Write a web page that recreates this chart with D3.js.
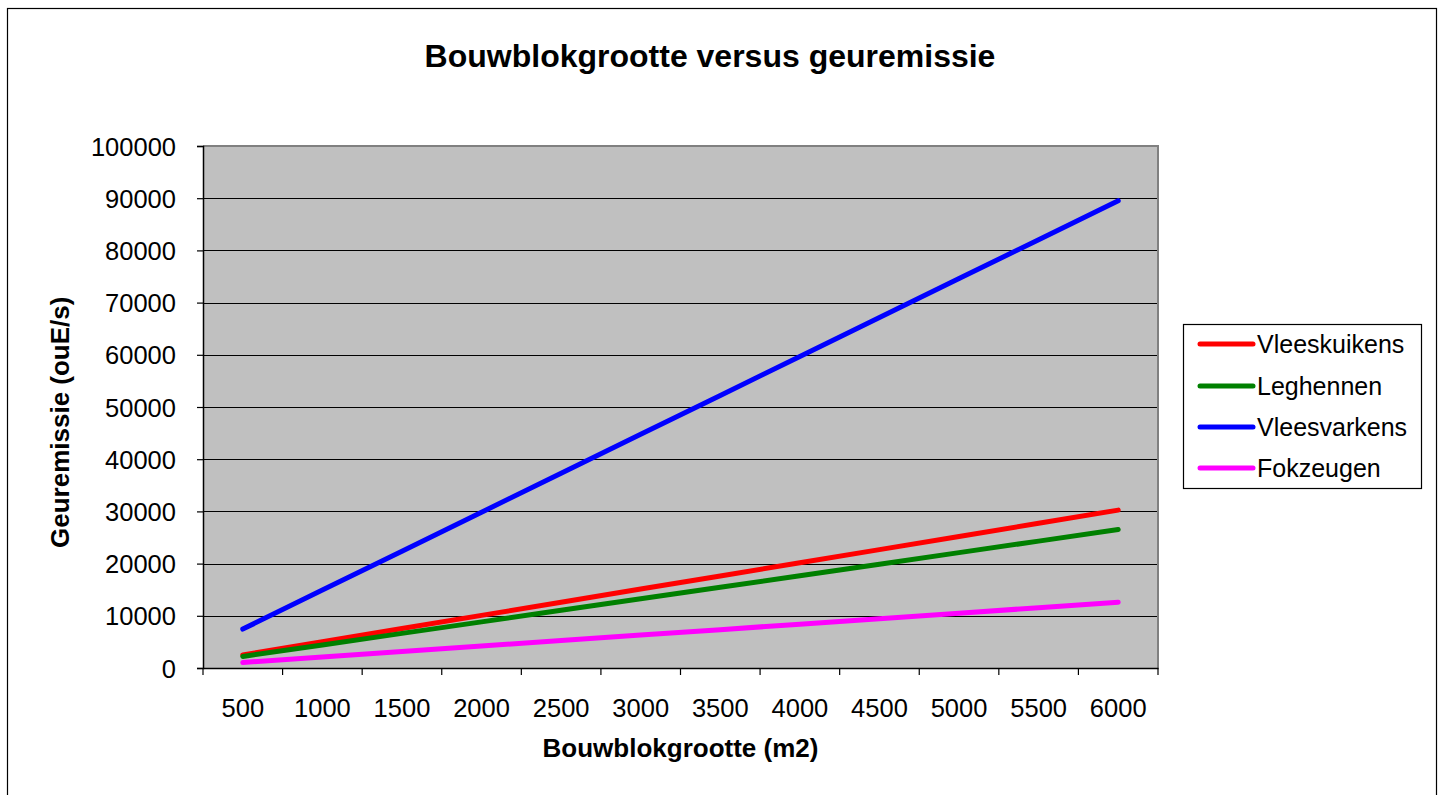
<!DOCTYPE html>
<html>
<head>
<meta charset="utf-8">
<script src="https://cdn.jsdelivr.net/npm/d3@7"></script>
<style>
  html, body { margin: 0; padding: 0; background: #fff; }
  svg { display: block; font-family: Arial, "Liberation Sans", sans-serif; }
</style>
</head>
<body>
<svg id="chart" width="1442" height="795"></svg>
<script>
const categories = [500, 1000, 1500, 2000, 2500, 3000, 3500, 4000, 4500, 5000, 5500, 6000];
const vleeskuikens = [2520, 5040, 7560, 10080, 12600, 15120, 17640, 20160, 22680, 25200, 27720, 30240];
const leghennen = [2210, 4420, 6630, 8840, 11050, 13260, 15470, 17680, 19890, 22100, 24310, 26520];
const vleesvarkens = [7460, 14920, 22380, 29840, 37300, 44760, 52220, 59680, 67140, 74600, 82060, 89520];
const fokzeugen = [1050, 2100, 3150, 4200, 5250, 6300, 7350, 8400, 9450, 10500, 11550, 12600];
const seriesNames = ["Vleeskuikens", "Leghennen", "Vleesvarkens", "Fokzeugen"];
const seriesColors = ["#FF0000", "#008000", "#0000FF", "#FF00FF"];
const yTicks = [0, 10000, 20000, 30000, 40000, 50000, 60000, 70000, 80000, 90000, 100000];
const titleText = "Bouwblokgrootte versus geuremissie";
const xTitle = "Bouwblokgrootte (m2)";
const yTitle = "Geuremissie (ouE/s)";

const seriesValues = [vleeskuikens, leghennen, vleesvarkens, fokzeugen];

const svg = d3.select("#chart");
const plot = { left: 203, right: 1158, top: 146, bottom: 668 };

// chart area border
svg.append("rect")
  .attr("x", 7.5).attr("y", 8.5).attr("width", 1429).attr("height", 792)
  .attr("fill", "#fff").attr("stroke", "#000").attr("stroke-width", 1.2);

const x = d3.scaleBand().domain(categories).range([plot.left, plot.right]).padding(0);
const y = d3.scaleLinear().domain([0, 100000]).range([plot.bottom, plot.top]);

// plot background
svg.append("rect")
  .attr("x", plot.left).attr("y", plot.top)
  .attr("width", plot.right - plot.left).attr("height", plot.bottom - plot.top)
  .attr("fill", "#C0C0C0");

// gridlines
svg.append("g").selectAll("line")
  .data(yTicks.filter(d => d > 0 && d < 100000))
  .join("line")
  .attr("x1", plot.left).attr("x2", plot.right)
  .attr("y1", d => Math.round(y(d)) + 0.5).attr("y2", d => Math.round(y(d)) + 0.5)
  .attr("stroke", "#000").attr("stroke-width", 1);

// plot border (top/right grey)
svg.append("path")
  .attr("d", `M${plot.left},${plot.top}H${plot.right}V${plot.bottom}`)
  .attr("fill", "none").attr("stroke", "#808080").attr("stroke-width", 2);

// y axis
const yAxis = d3.axisLeft(y).tickValues(yTicks).tickSize(6).tickPadding(21).tickFormat(d3.format("d"));
const gy = svg.append("g").attr("transform", `translate(${plot.left},0)`).call(yAxis);
gy.select(".domain").attr("stroke", "#000").attr("stroke-width", 1.5);
gy.selectAll(".tick line").attr("stroke", "#000").attr("stroke-width", 1.2);
gy.selectAll(".tick text").attr("font-size", 25.5).attr("fill", "#000")
  .attr("font-family", "Arial, 'Liberation Sans', sans-serif").attr("dy", "0.36em");

// x axis
const xAxis = d3.axisBottom(x).tickSize(0).tickPadding(31).tickFormat(d => String(d));
const gx = svg.append("g").attr("transform", `translate(0,${plot.bottom})`).call(xAxis);
gx.select(".domain").attr("stroke", "#000").attr("stroke-width", 1.5);
gx.selectAll(".tick text").attr("font-size", 25.5).attr("fill", "#000")
  .attr("font-family", "Arial, 'Liberation Sans', sans-serif");
// tick marks between categories
const boundaries = categories.map(c => x(c)).concat([x(categories[categories.length - 1]) + x.bandwidth()]);
gx.append("g").selectAll("line").data(boundaries).join("line")
  .attr("x1", d => d).attr("x2", d => d).attr("y1", 0).attr("y2", 7)
  .attr("stroke", "#000").attr("stroke-width", 1.2);

// lines
const line = d3.line()
  .x((d, i) => x(categories[i]) + x.bandwidth() / 2)
  .y(d => y(d));
svg.append("g").selectAll("path").data(seriesValues).join("path")
  .attr("d", d => line(d))
  .attr("fill", "none")
  .attr("stroke", (d, i) => seriesColors[i])
  .attr("stroke-width", 5)
  .attr("stroke-linecap", "round")
  .attr("stroke-linejoin", "round");

// titles
svg.append("text").attr("x", 710).attr("y", 67).attr("text-anchor", "middle")
  .attr("font-size", 32).attr("font-weight", "bold").text(titleText);
svg.append("text").attr("x", (plot.left + plot.right) / 2).attr("y", 757).attr("text-anchor", "middle")
  .attr("font-size", 26).attr("font-weight", "bold").text(xTitle);
svg.append("text").attr("transform", `translate(69,548) rotate(-90)`)
  .attr("text-anchor", "start").attr("font-size", 26).attr("font-weight", "bold").text(yTitle);

// legend
const legend = svg.append("g");
legend.append("rect").attr("x", 1183.5).attr("y", 324.5).attr("width", 238).attr("height", 164)
  .attr("fill", "#fff").attr("stroke", "#000").attr("stroke-width", 1.2);
const rowY = [344, 386, 427, 468];
const items = legend.selectAll("g.item").data(seriesNames).join("g").attr("class", "item");
items.append("line")
  .attr("x1", 1200).attr("x2", 1253)
  .attr("y1", (d, i) => rowY[i]).attr("y2", (d, i) => rowY[i])
  .attr("stroke", (d, i) => seriesColors[i]).attr("stroke-width", 5).attr("stroke-linecap", "round");
items.append("text")
  .attr("x", 1257).attr("y", (d, i) => rowY[i] + 9)
  .attr("font-size", 25).attr("fill", "#000").text(d => d);
</script>
</body>
</html>
